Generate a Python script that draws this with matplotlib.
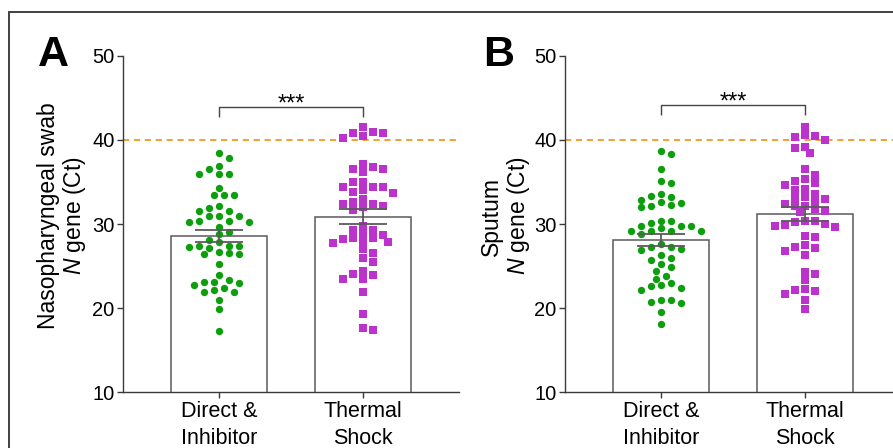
import numpy as np
import matplotlib
matplotlib.use("Agg")
import matplotlib.pyplot as plt
from matplotlib.patches import Rectangle

plt.rcParams['font.family'] = ['Liberation Sans', 'DejaVu Sans']
plt.rcParams['mathtext.fontset'] = 'custom'
plt.rcParams['mathtext.it'] = 'Liberation Sans:italic'
plt.rcParams['mathtext.rm'] = 'Liberation Sans'

# ---------------- data (Ct values) ----------------
categories = ["Direct &\nInhibitor", "Thermal\nShock"]
panel_letters = ["A", "B"]
ylabel_line1 = ["Nasopharyngeal swab", "Sputum"]
ylabel_line2 = "$\\it{N}$ gene (Ct)"
significance = ["***", "***"]
cutoff_ct = 40

A_direct = [38.5, 37.8, 36.9, 36.5, 35.9, 35.9, 35.9, 34.3, 33.5, 33.4, 33.4, 32.1,
            31.9, 31.5, 31.5, 31.0, 30.9, 30.9, 30.3, 30.3, 30.2, 30.2, 29.7, 29.0,
            28.8, 28.1, 27.9, 27.4, 27.4, 27.4, 27.3, 27.2, 26.7, 26.5, 26.4, 26.4,
            25.2, 23.9, 23.3, 23.1, 23.1, 23.0, 22.7, 22.4, 22.2, 21.9, 21.9, 21.0,
            19.9, 17.3]
A_thermal = [41.5, 40.9, 40.8, 40.8, 40.5, 40.2, 37.2, 36.8, 36.6, 36.6, 36.2, 35.0,
             35.0, 34.4, 34.4, 34.4, 34.1, 33.8, 33.7, 33.0, 32.6, 32.4, 32.4, 32.2,
             32.0, 31.7, 29.8, 29.3, 29.3, 28.9, 28.7, 28.3, 28.3, 28.2, 28.0, 27.9,
             27.7, 27.0, 26.5, 26.0, 25.5, 24.4, 24.1, 23.9, 23.5, 23.4, 21.9, 19.3,
             17.6, 17.4]
B_direct = [38.7, 38.3, 36.5, 35.1, 34.9, 33.6, 33.3, 33.2, 32.9, 32.6, 32.5, 32.3,
            32.2, 32.0, 30.4, 30.4, 30.1, 29.8, 29.8, 29.8, 29.5, 29.2, 29.2, 29.2,
            29.2, 28.8, 27.6, 27.3, 27.3, 27.0, 26.9, 26.3, 25.9, 25.7, 25.2, 24.9,
            24.4, 23.8, 23.5, 23.0, 22.7, 22.6, 22.4, 22.2, 21.0, 21.0, 20.7, 20.6,
            19.5, 18.1]
B_thermal = [41.6, 40.6, 40.5, 40.3, 40.0, 39.2, 39.0, 38.4, 36.5, 35.8, 35.3, 35.1,
             34.9, 34.6, 34.2, 34.1, 33.6, 33.2, 33.1, 33.0, 32.7, 32.4, 32.2, 32.2,
             31.8, 31.6, 31.4, 30.4, 30.3, 30.2, 30.0, 29.9, 29.8, 29.7, 28.6, 28.5,
             27.5, 27.3, 27.1, 26.8, 26.3, 24.3, 24.0, 23.3, 22.3, 22.1, 22.0, 21.7,
             20.9, 19.9]

panels = [(A_direct, A_thermal), (B_direct, B_thermal)]

# ---------------- style ----------------
GREEN = "#0c9e0c"
MAGENTA = "#bb33cc"
ORANGE = "#f5a038"
AXCOL = "#3a3a3a"
BARCOL = "#5a5a5a"

W, H = 893, 448
fig = plt.figure(figsize=(W / 100, H / 100), dpi=100)

ax_left_px = [123, 565]
ax_top_px, ax_bot_px = 56, 392
ax_w_px = 336
label_x1 = [48.5, 491]
label_x2 = [74, 518]
label_yc = 216
letter_xc = [53.5, 499]


def swarm_x(ax, xc, vals, step=5.0, wx=10.0, hy=7.0):
    vals = np.asarray(vals, float)
    disp = ax.transData.transform(np.column_stack([np.full(len(vals), xc), vals]))
    ys = disp[:, 1]
    order = np.argsort(-vals, kind="stable")
    placed = []
    off = np.zeros(len(vals))
    for i in order:
        chosen = None
        for k in range(0, 40):
            opts = [0.0] if k == 0 else [k * step, -k * step]
            ok = []
            for dx in opts:
                if all(((dx - px) / wx) ** 2 + ((ys[i] - py) / hy) ** 2 >= 0.999
                       for px, py in placed):
                    ok.append(dx)
            if ok:
                if len(ok) == 2:
                    near = [p for p in placed if abs(p[1] - ys[i]) < 20]
                    npos = sum(1 for p in near if p[0] > 0)
                    nneg = sum(1 for p in near if p[0] < 0)
                    chosen = ok[1] if npos > nneg else ok[0]
                else:
                    chosen = ok[0]
                break
        placed.append((chosen, ys[i]))
        off[i] = chosen
    back = ax.transData.inverted().transform(np.column_stack([disp[:, 0] + off, ys]))
    return back[:, 0]


for p, (d1, d2) in enumerate(panels):
    ax = fig.add_axes([ax_left_px[p] / W, (H - ax_bot_px) / H,
                       ax_w_px / W, (ax_bot_px - ax_top_px) / H])
    ax.set_xlim(-0.667, 1.667)
    ax.set_ylim(10, 50)
    for s in ["top", "right"]:
        ax.spines[s].set_visible(False)
    for s in ["left", "bottom"]:
        ax.spines[s].set_color(AXCOL)
        ax.spines[s].set_linewidth(1.0)
    ax.set_yticks([10, 20, 30, 40, 50])
    ax.set_xticks([0, 1])
    ax.set_xticklabels(categories, fontsize=15.5, linespacing=1.36)
    ax.tick_params(axis="y", length=4, width=1, color=AXCOL, labelsize=14.5, pad=2)
    ax.tick_params(axis="x", length=4, width=1, color=AXCOL, pad=2.5)

    groups = [d1, d2]
    means = [np.mean(g) for g in groups]
    sems = [np.std(g, ddof=1) / np.sqrt(len(g)) for g in groups]
    ax.bar([0, 1], means, width=0.667, bottom=0, color="white",
           edgecolor=BARCOL, linewidth=1.1, zorder=1)

    ax.axhline(cutoff_ct, color=ORANGE, lw=1.4, ls=(0, (3.2, 2.4)), zorder=0.5)

    fig.canvas.draw()
    xs1 = swarm_x(ax, 0, d1)
    xs2 = swarm_x(ax, 1, d2)
    ax.scatter(xs1, d1, s=28, marker="o", color=GREEN, linewidths=0, zorder=2,
               clip_on=False)
    ax.scatter(xs2, d2, s=26, marker="s", color=MAGENTA, linewidths=0, zorder=2,
               clip_on=False)

    ax.errorbar([0, 1], means, yerr=sems, fmt="none", ecolor=BARCOL,
                elinewidth=1.3, capsize=17.5, capthick=1.3, zorder=3)

    # significance bracket
    top = max(max(d1), max(d2)) + 2.4 + p * 0.2
    ax.plot([0, 0, 1, 1], [top - 1.2, top, top, top - 1.2], color="#444444",
            lw=1.0, zorder=3, solid_capstyle="butt")
    ax.text(0.5, top - 0.4, significance[p], ha="center", va="baseline",
            fontsize=17)

    # y label (two lines)
    fig.text(label_x1[p] / W, 1 - label_yc / H, ylabel_line1[p], rotation=90,
             ha="center", va="center", fontsize=16.5)
    fig.text(label_x2[p] / W, 1 - label_yc / H, ylabel_line2, rotation=90,
             ha="center", va="center", fontsize=16.5)
    # panel letter
    fig.text(letter_xc[p] / W, 1 - 55 / H, panel_letters[p], ha="center",
             va="center", fontsize=31, fontweight="bold")

# outer frame (cropped at right / bottom)
fig.add_artist(Rectangle((9 / W, -0.2), 1.5, 1.2 - 11.5 / H, transform=fig.transFigure,
                         fill=False, edgecolor="#333333", linewidth=1.3))

fig.savefig("out.png", dpi=100)
